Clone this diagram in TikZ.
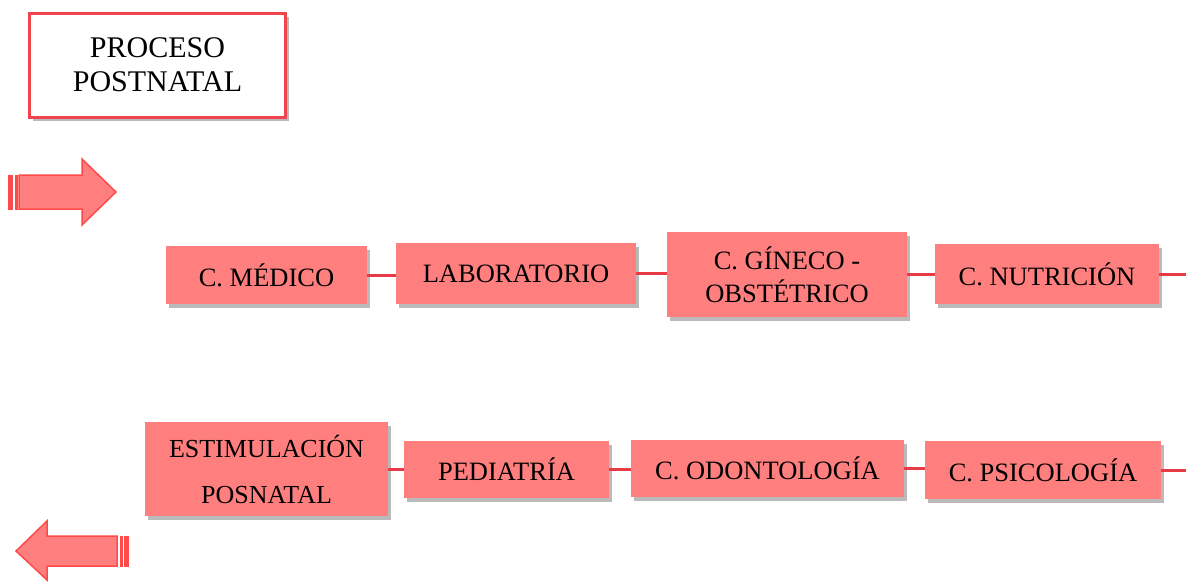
\documentclass[tikz,border=0pt]{standalone}
\usepackage{fontspec}
\setmainfont{Liberation Serif}
\usetikzlibrary{shadows}
\definecolor{boxfill}{HTML}{FF7F7F}
\definecolor{linkred}{HTML}{E83A45}
\definecolor{titlered}{HTML}{F2444E}
\definecolor{arrowred}{HTML}{FF4A4A}
\begin{document}
\begin{tikzpicture}[x=1pt,y=-1pt,
  stepbox/.style={fill=boxfill, draw=none, align=center, inner sep=0pt,
    font=\fontsize{26.5}{33}\selectfont,
    drop shadow={shadow xshift=3pt, shadow yshift=-4pt, opacity=0.45, fill=black!60}},
  titlebox/.style={fill=white, draw=titlered, line width=3pt, align=center, inner sep=0pt,
    font=\fontsize{30}{34}\selectfont,
    drop shadow={shadow xshift=3pt, shadow yshift=-4pt, opacity=0.45, fill=black!60}},
  link/.style={draw=linkred, line width=3pt},
  bigarrow/.style={fill=boxfill, draw=arrowred, line width=1.5pt, line join=miter},
  stripe/.style={fill=arrowred, draw=arrowred, line width=1pt}]
\useasboundingbox (0,0) rectangle (1186,581);

% title
\node[titlebox, minimum width=256pt, minimum height=104pt] (title) at (157.5,65) {PROCESO\\POSTNATAL};

% arrows
\draw[bigarrow] (19,175) -- (82,175) -- (82,159) -- (116,192) -- (82,225) -- (82,209) -- (19,209) -- cycle;
\draw[stripe] (8,175) rectangle (12,209);
\draw[stripe] (15,175) rectangle (17,209);

\draw[bigarrow] (117,536) -- (47,536) -- (47,521) -- (16,551) -- (47,580) -- (47,566) -- (117,566) -- cycle;
\draw[stripe] (120,536) rectangle (122,566);
\draw[stripe] (124,536) rectangle (128,566);

% row 1
\node[stepbox, minimum width=201pt, minimum height=58pt] (medico) at (266.5,275) {C. MÉDICO};
\node[stepbox, minimum width=240pt, minimum height=61pt] (lab) at (516,273.5) {LABORATORIO};
\node[stepbox, minimum width=240pt, minimum height=85pt] (gine) at (787,274.5) {C. GÍNECO -\\OBSTÉTRICO};
\node[stepbox, minimum width=224pt, minimum height=60pt] (nutri) at (1047,274) {C. NUTRICIÓN};
\coordinate (r1end) at (1186,274);

% row 2
\node[stepbox, minimum width=243pt, minimum height=94pt, font=\fontsize{26}{46}\selectfont] (estim) at (266.5,469) {ESTIMULACIÓN\\POSNATAL};
\node[stepbox, minimum width=205pt, minimum height=57pt] (pedia) at (506.5,469.5) {PEDIATRÍA};
\node[stepbox, minimum width=273pt, minimum height=57pt] (odon) at (767.5,468.5) {C. ODONTOLOGÍA};
\node[stepbox, minimum width=236pt, minimum height=58pt] (psico) at (1043,470) {C. PSICOLOGÍA};
\coordinate (r2end) at (1186,470);

% connectors
\draw[link] (medico.east) -- (lab.west |- medico.east);
\draw[link] (lab.east) -- (gine.west |- lab.east);
\draw[link] (gine.east) -- (nutri.west |- gine.east);
\draw[link] (nutri.east) -- (r1end);
\draw[link] (estim.east) -- (pedia.west |- estim.east);
\draw[link] (pedia.east) -- (odon.west |- pedia.east);
\draw[link] (odon.east) -- (psico.west |- odon.east);
\draw[link] (psico.east) -- (r2end);
\end{tikzpicture}
\end{document}
